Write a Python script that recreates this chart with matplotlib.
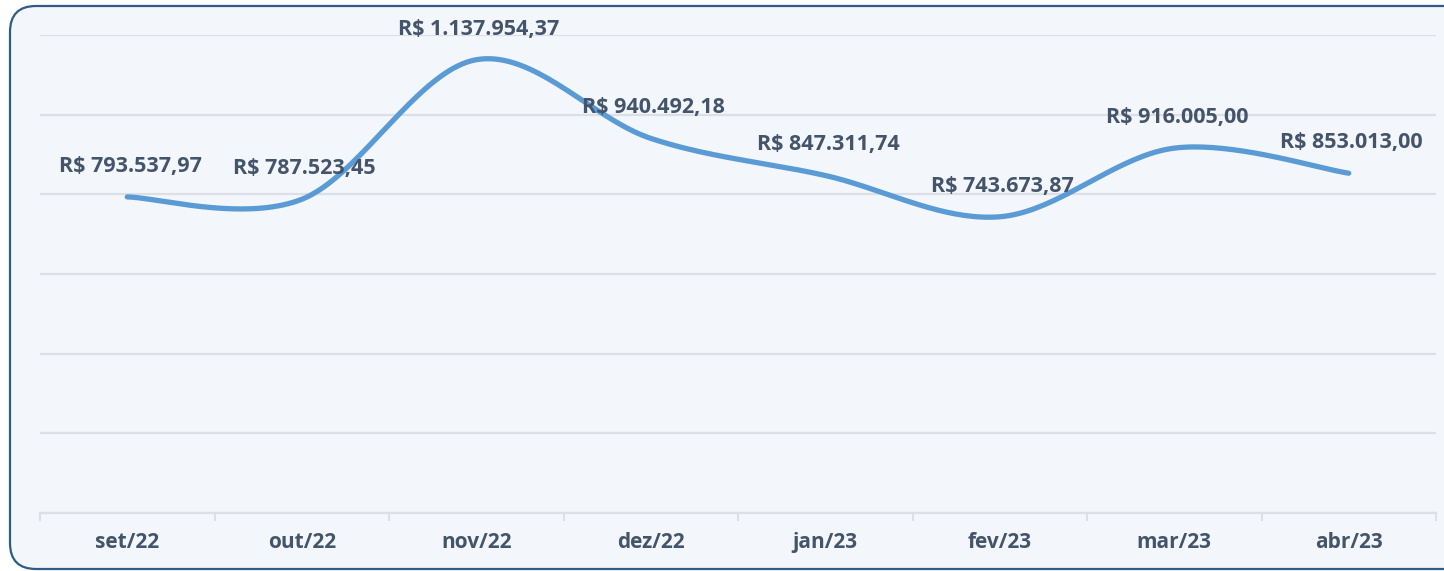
import matplotlib
matplotlib.use("Agg")
import matplotlib.pyplot as plt
import numpy as np
from matplotlib.patches import FancyBboxPatch

months = ["set/22", "out/22", "nov/22", "dez/22", "jan/23", "fev/23", "mar/23", "abr/23"]
values = [793537.97, 787523.45, 1137954.37, 940492.18, 847311.74, 743673.87, 916005.00, 853013.00]
labels = ["R$ 793.537,97", "R$ 787.523,45", "R$ 1.137.954,37", "R$ 940.492,18",
          "R$ 847.311,74", "R$ 743.673,87", "R$ 916.005,00", "R$ 853.013,00"]

LINE = "#5B9BD5"
TEXT = "#44546A"
GRID = "#DCE0E6"
BG = "#F3F6FA"
BORDER = "#2E5C87"

plt.rcParams["font.family"] = ["Open Sans", "DejaVu Sans"]


def smooth(x, y, n=40):
    # catmull-rom style bezier, close to what excel does for smoothed lines
    x = np.asarray(x, float)
    y = np.asarray(y, float)
    px = np.concatenate([[x[0]], x, [x[-1]]])
    py = np.concatenate([[y[0]], y, [y[-1]]])
    xs, ys = [], []
    t = np.linspace(0, 1, n)
    for i in range(1, len(px) - 2):
        p0 = np.array([px[i], py[i]])
        p3 = np.array([px[i + 1], py[i + 1]])
        c1 = p0 + (np.array([px[i + 1], py[i + 1]]) - np.array([px[i - 1], py[i - 1]])) / 6
        c2 = p3 - (np.array([px[i + 2], py[i + 2]]) - np.array([px[i], py[i]])) / 6
        b = ((1 - t) ** 3)[:, None] * p0 + (3 * (1 - t) ** 2 * t)[:, None] * c1 \
            + (3 * (1 - t) * t ** 2)[:, None] * c2 + (t ** 3)[:, None] * p3
        xs.extend(b[:, 0])
        ys.extend(b[:, 1])
    return np.array(xs), np.array(ys)


W, H = 1444, 571
fig = plt.figure(figsize=(W / 100, H / 100), dpi=100)
fig.patch.set_facecolor("white")

# background card, pixel coordinates
bg = fig.add_axes([0, 0, 1, 1], zorder=0)
bg.set_xlim(0, W)
bg.set_ylim(H, 0)
bg.axis("off")
bg.add_patch(FancyBboxPatch((10, 6), W + 20, H - 8,
                            boxstyle="round,pad=0,rounding_size=26",
                            facecolor=BG, edgecolor=BORDER, linewidth=1.6))

ax = fig.add_axes([40 / W, 58 / H, 1396 / W, 478 / H], zorder=1)
ax.set_facecolor("none")

x = np.arange(len(months))
sx, sy = smooth(x, values)
ax.plot(sx, sy, color=LINE, lw=3.8, solid_capstyle="round", zorder=3)

for xi, v, lab in zip(x, values, labels):
    ax.annotate(lab, (xi, v), xytext=(2, 22), textcoords="offset points",
                ha="center", va="center", fontsize=15.5, fontweight="bold",
                color=TEXT, zorder=4)

ax.set_xlim(-0.5, len(months) - 0.5)
ax.set_ylim(0, 1200000)
ax.set_yticks(np.arange(0, 1200001, 200000))
ax.yaxis.grid(True, color=GRID, lw=1.6)
ax.tick_params(axis="y", length=0, labelleft=False)
ax.set_axisbelow(True)

ax.set_xticks(x)
ax.set_xticklabels(months, fontsize=15, fontweight="bold", color=TEXT)
ax.set_xticks(np.arange(-0.5, len(months), 1), minor=True)
ax.tick_params(axis="x", which="major", length=0, pad=14)
ax.tick_params(axis="x", which="minor", length=6, width=1.4, color=GRID)

for s in ["top", "right", "left"]:
    ax.spines[s].set_visible(False)
ax.spines["bottom"].set_color(GRID)
ax.spines["bottom"].set_linewidth(1.6)

fig.savefig("out.png", dpi=100)
